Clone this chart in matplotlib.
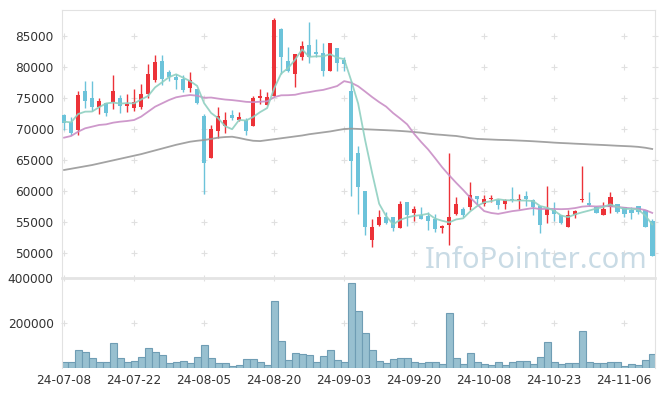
import numpy as np
import matplotlib.pyplot as plt

# trading days (KRX), 2024-07-08 .. 2024-11-12
dates = [
    "2024-07-08", "2024-07-09", "2024-07-10", "2024-07-11", "2024-07-12", "2024-07-15", "2024-07-16",
    "2024-07-17", "2024-07-18", "2024-07-19", "2024-07-22", "2024-07-23", "2024-07-24", "2024-07-25",
    "2024-07-26", "2024-07-29", "2024-07-30", "2024-07-31", "2024-08-01", "2024-08-02", "2024-08-05",
    "2024-08-06", "2024-08-07", "2024-08-08", "2024-08-09", "2024-08-12", "2024-08-13", "2024-08-14",
    "2024-08-16", "2024-08-19", "2024-08-20", "2024-08-21", "2024-08-22", "2024-08-23", "2024-08-26",
    "2024-08-27", "2024-08-28", "2024-08-29", "2024-08-30", "2024-09-02", "2024-09-03", "2024-09-04",
    "2024-09-05", "2024-09-06", "2024-09-09", "2024-09-10", "2024-09-11", "2024-09-12", "2024-09-13",
    "2024-09-19", "2024-09-20", "2024-09-23", "2024-09-24", "2024-09-25", "2024-09-26", "2024-09-27",
    "2024-09-30", "2024-10-02", "2024-10-04", "2024-10-07", "2024-10-08", "2024-10-10", "2024-10-11",
    "2024-10-14", "2024-10-15", "2024-10-16", "2024-10-17", "2024-10-18", "2024-10-21", "2024-10-22",
    "2024-10-23", "2024-10-24", "2024-10-25", "2024-10-28", "2024-10-29", "2024-10-30", "2024-10-31",
    "2024-11-01", "2024-11-04", "2024-11-05", "2024-11-06", "2024-11-07", "2024-11-08", "2024-11-11",
    "2024-11-12",
]

opens = [72200, 71100, 69900, 76100, 74900, 73600, 74200, 74400, 74900, 73700,
         73400, 73600, 75600, 77900, 80900, 79100, 78400, 78100, 76600, 76400,
         72100, 65400, 69700, 70500, 72200, 71400, 71500, 70500, 75000, 73900,
         75300, 86100, 80900, 78900, 81600, 83500, 82400, 82200, 79300, 83000,
         81100, 76100, 66100, 60000, 52200, 54600, 55800, 55800, 54100, 58200,
         56500, 56200, 56000, 55500, 54000, 54600, 56400, 57200, 57500, 59200,
         58000, 58700, 58500, 57900, 58800, 58500, 59200, 58500, 57600, 56200,
         57000, 56100, 54300, 56200, 58500, 58100, 57400, 56100, 57400, 57900,
         57500, 57000, 57600, 57000, 55200]
highs = [72400, 72000, 76100, 77700, 77700, 74900, 74200, 78700, 75500, 75600,
         76500, 77200, 80400, 81900, 81900, 79500, 78900, 78700, 79100, 76400,
         72400, 70600, 73500, 72700, 73000, 72800, 71700, 75300, 76500, 76000,
         87800, 86200, 83100, 82100, 84200, 87200, 84400, 83900, 83900, 83000,
         81600, 77700, 67200, 60000, 55500, 56900, 56600, 55800, 58400, 58200,
         57600, 57500, 56600, 56300, 54600, 66100, 59100, 57500, 61500, 59200,
         59400, 59400, 58800, 58800, 60600, 59600, 60000, 58800, 57600, 60800,
         58300, 56100, 57000, 57000, 64000, 59900, 57600, 58300, 59900, 57900,
         57500, 57500, 57600, 57000, 55500]
lows = [69900, 69100, 69100, 73300, 72900, 72400, 72100, 73200, 72500, 72700,
        72900, 73200, 74900, 77600, 77100, 77700, 76500, 76000, 76000, 74000,
        59500, 65400, 68600, 69300, 71500, 71300, 69000, 70500, 74000, 73900,
        75300, 78900, 79200, 76700, 81100, 80600, 81600, 78500, 79300, 79300,
        79300, 59200, 56300, 52900, 51000, 54400, 54700, 53600, 54100, 54400,
        55200, 55500, 53700, 53500, 53200, 51300, 56200, 55900, 56900, 57900,
        57600, 58300, 57200, 57100, 58300, 57100, 57600, 56200, 53200, 54900,
        55200, 54700, 54300, 55600, 58200, 57600, 56500, 56100, 56500, 56500,
        55900, 55500, 56300, 54300, 49500]
closes = [71000, 69400, 75500, 74500, 73600, 74500, 72500, 76100, 73700, 74000,
          74300, 75600, 78900, 80700, 78000, 78400, 77900, 76300, 77900, 74200,
          64500, 70000, 72100, 71400, 71800, 71900, 69600, 74900, 75300, 75100,
          87600, 81600, 79300, 82100, 83300, 81600, 82100, 79300, 83800, 80600,
          80400, 64900, 60700, 54300, 54200, 55800, 54900, 54100, 57900, 56200,
          57100, 55500, 55200, 53900, 54400, 55800, 57900, 56200, 59400, 58700,
          58800, 58800, 57800, 58600, 58600, 58700, 58700, 57400, 54500, 57200,
          56300, 54900, 56100, 56800, 58800, 57800, 56500, 57200, 59000, 56700,
          56300, 56500, 56700, 54300, 49500]
volumes = [28000, 28000, 82000, 73000, 45000, 28000, 28000, 110000, 45000, 28000,
           33000, 50000, 91000, 73000, 59000, 23000, 28000, 33000, 23000, 50000,
           101000, 45000, 23000, 23000, 9000, 14000, 40000, 40000, 28000, 14000,
           296000, 121000, 36000, 68000, 64000, 59000, 28000, 54000, 78000, 36000,
           28000, 377000, 254000, 157000, 78000, 31000, 22000, 40000, 45000, 45000,
           26000, 22000, 26000, 26000, 17000, 245000, 45000, 17000, 68000, 26000,
           17000, 12000, 26000, 12000, 26000, 31000, 31000, 17000, 50000, 115000,
           26000, 17000, 22000, 22000, 166000, 26000, 22000, 22000, 26000, 26000,
           8000, 17000, 12000, 36000, 64000]

ma5 = [71170, 71060, 72400, 72780, 72800, 73500, 74110, 74240, 74080, 74150,
       74110, 74740, 75310, 76690, 77510, 78340, 78790, 78250, 77690, 76930,
       74140, 72570, 71730, 70440, 69960, 71450, 71360, 71930, 72710, 73360,
       76500, 78910, 79790, 81150, 82800, 81600, 81680, 81680, 82020, 81470,
       81230, 77800, 74080, 68180, 62900, 57970, 55980, 54660, 55380, 55770,
       56030, 56150, 56370, 55580, 55230, 54970, 55450, 55630, 56730, 57590,
       58200, 58380, 58700, 58540, 58520, 58500, 58480, 58400, 57600, 57330,
       56850, 56080, 55820, 56270, 56590, 56880, 57200, 57440, 57880, 57450,
       57150, 57150, 57040, 56090, 54650]
ma20 = [68600, 68870, 69560, 70100, 70370, 70640, 70740, 71010, 71170, 71280,
        71440, 71980, 72780, 73580, 74120, 74660, 75090, 75300, 75460, 75350,
        75020, 75050, 74880, 74730, 74640, 74510, 74360, 74310, 74380, 74440,
        75110, 75410, 75430, 75500, 75760, 75920, 76130, 76280, 76580, 76900,
        77690, 77440, 76870, 76010, 75130, 74320, 73590, 72550, 71680, 70740,
        69210, 67900, 66700, 65290, 63840, 62550, 61340, 60190, 58970, 57870,
        56790, 56490, 56340, 56560, 56780, 56920, 57110, 57280, 57110, 57160,
        57130, 57100, 57140, 57280, 57510, 57600, 57530, 57590, 57570, 57470,
        57340, 57230, 57170, 56960, 56500]
ma60 = [63400, 63600, 63800, 64000, 64200, 64450, 64700, 64950, 65200, 65450,
        65700, 65950, 66250, 66550, 66850, 67150, 67450, 67700, 67950, 68100,
        68220, 68400, 68600, 68700, 68750, 68550, 68300, 68100, 68050, 68200,
        68350, 68500, 68650, 68800, 68950, 69150, 69300, 69450, 69600, 69800,
        69990, 70050, 70000, 69950, 69900, 69850, 69800, 69750, 69680, 69600,
        69500, 69400, 69250, 69130, 69050, 68950, 68870, 68700, 68520, 68400,
        68350, 68300, 68250, 68220, 68180, 68130, 68080, 68020, 67950, 67880,
        67800, 67740, 67690, 67630, 67580, 67520, 67470, 67420, 67360, 67300,
        67250, 67200, 67120, 66980, 66780]

price_ticks = [50000, 55000, 60000, 65000, 70000, 75000, 80000, 85000]
vol_ticks = [200000, 400000]

UP = "#ec3238"
DOWN = "#6cc3da"
GRID = "#e0e0e0"
TXT = "#333333"

plt.rcParams["font.family"] = ["DejaVu Sans"]

x = np.arange(len(dates))
o = np.array(opens)
c = np.array(closes)
colors = [UP if cc >= oo else DOWN for oo, cc in zip(o, c)]
xticks = x[::10]
xlabels = [dates[i][2:] for i in xticks]

fig = plt.figure(figsize=(6.65, 3.96), dpi=100)
ax1 = fig.add_axes([62 / 665, 1 - 278 / 396, 593 / 665, 268 / 396])
ax2 = fig.add_axes([62 / 665, 1 - 368 / 396, 593 / 665, 90 / 396], sharex=ax1)

# watermark
fig.text(648 / 665, 1 - 268 / 396, "InfoPointer.com", fontsize=21, color="#c9dbe5",
         ha="right", va="baseline", family="Noto Sans", zorder=0)
ax1.patch.set_alpha(0)

# grid crosses
gx, gy = np.meshgrid(xticks, price_ticks)
ax1.plot(gx.ravel(), gy.ravel(), "+", color=GRID, ms=5, mew=0.8, zorder=1)
ax1.plot(np.full(len(price_ticks), 1.0), price_ticks, "+", color=GRID, ms=5, mew=0.8,
         transform=ax1.get_yaxis_transform(), clip_on=False, zorder=1)
vx, vy = np.meshgrid(xticks, vol_ticks)
ax2.plot(vx.ravel(), vy.ravel(), "+", color=GRID, ms=5, mew=0.8, zorder=1, clip_on=False)

# candles
ax1.vlines(x, lows, highs, colors=colors, lw=1.0, zorder=2)
body = np.maximum(np.abs(c - o), 120)
ax1.bar(x, body, bottom=np.minimum(o, c), width=0.66, color=colors, lw=0, zorder=3)

# moving averages
ax1.plot(x, ma60, color="#999999", lw=1.3, alpha=0.9, zorder=4)
ax1.plot(x, ma20, color="#c98ec6", lw=1.3, alpha=0.9, zorder=4)
ax1.plot(x, ma5, color="#8fd0c1", lw=1.3, alpha=0.9, zorder=5)

ax1.set_xlim(-0.3, 84.4)
ax1.set_ylim(46030, 89130)
ax1.set_yticks(price_ticks)
ax1.tick_params(axis="y", length=0, pad=6, labelsize=8.7, labelcolor=TXT)
ax1.tick_params(axis="x", length=0, labelbottom=False)
for s in ["left", "top", "right"]:
    ax1.spines[s].set_color("#e2e2e2")
ax1.spines["bottom"].set_visible(False)

# volume
ax2.bar(x, volumes, width=1.0, color="#98c0d0", edgecolor="#6f9db4", lw=0.8, zorder=2)
ax2.set_ylim(0, 400000)
ax2.set_yticks(vol_ticks)
ax2.set_yticklabels(["200000", "400000"])
ax2.set_xticks(xticks)
ax2.set_xticklabels(xlabels)
ax2.tick_params(axis="y", length=0, pad=6, labelsize=8.7, labelcolor=TXT)
ax2.tick_params(axis="x", length=0, pad=4, labelsize=8.7, labelcolor=TXT)
ax2.spines["top"].set_color("#e4e4e4")
ax2.spines["top"].set_linewidth(2)
ax2.spines["left"].set_color("#e2e2e2")
ax2.spines["right"].set_color("#e2e2e2")
ax2.spines["bottom"].set_visible(False)

fig.savefig("out.png", dpi=100)
